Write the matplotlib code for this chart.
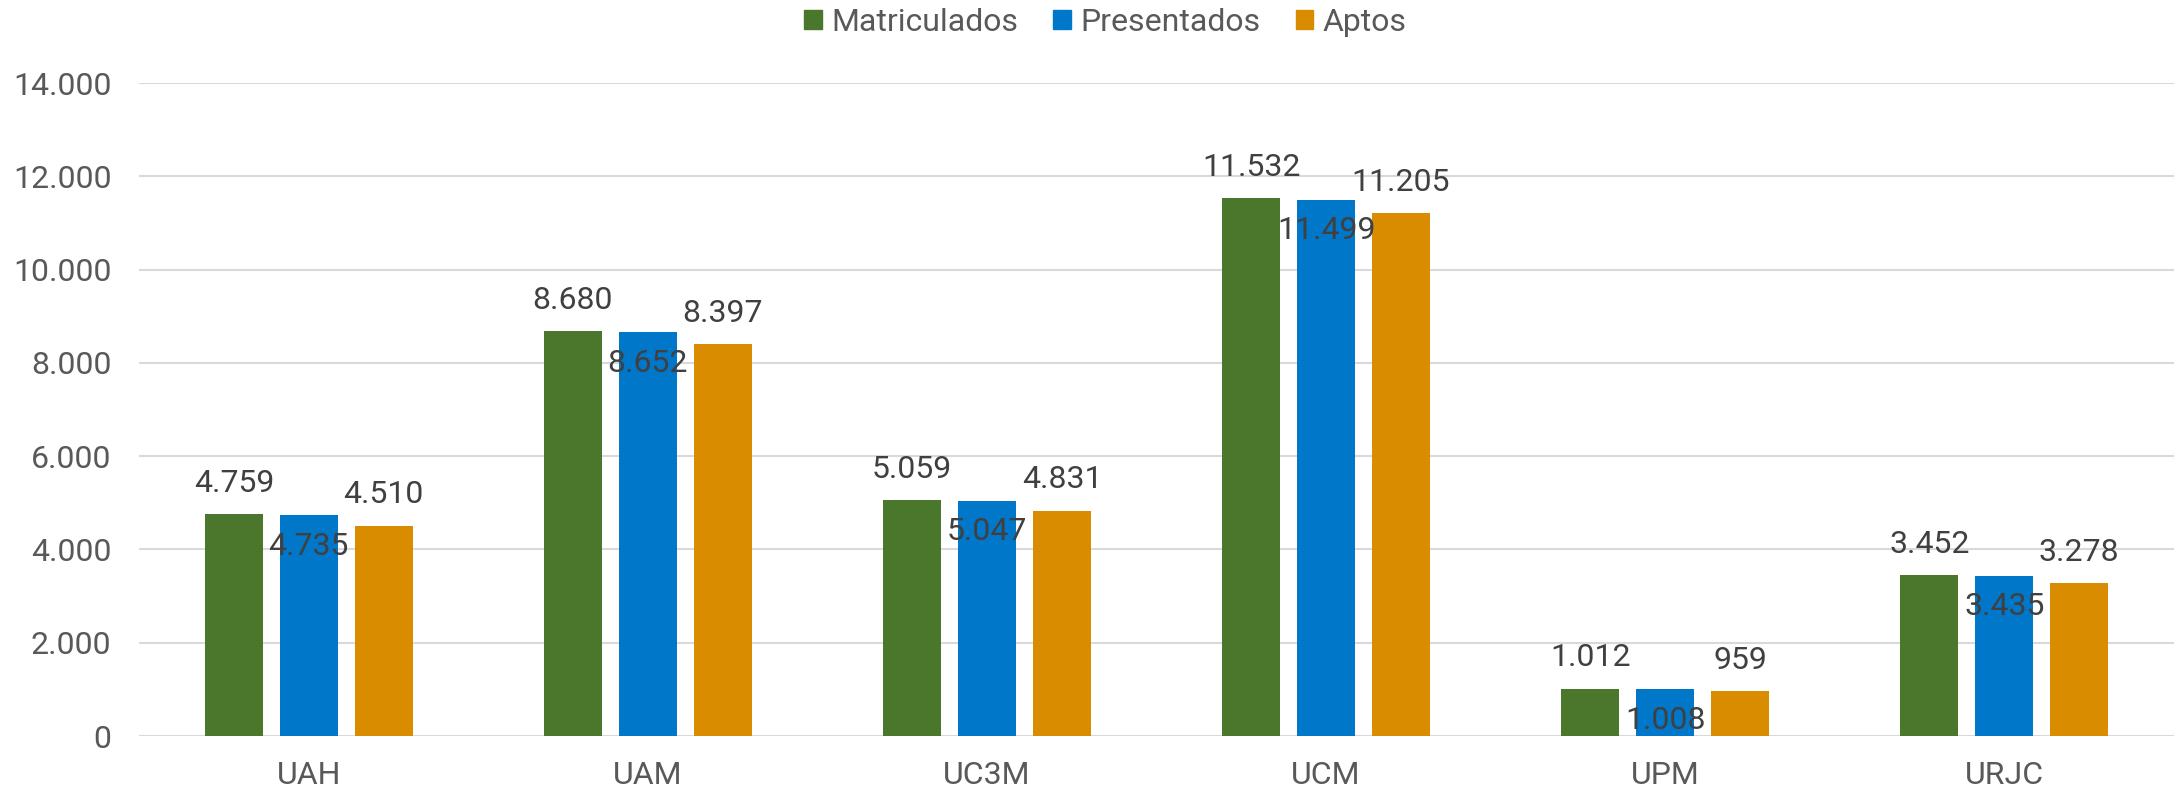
import numpy as np
import matplotlib.pyplot as plt
from matplotlib.patches import Patch

plt.rcParams['font.family'] = ['Roboto', 'DejaVu Sans']

universidades = ['UAH', 'UAM', 'UC3M', 'UCM', 'UPM', 'URJC']
matriculados = [4759, 8680, 5059, 11532, 1012, 3452]
presentados = [4735, 8652, 5047, 11499, 1008, 3435]
aptos = [4510, 8397, 4831, 11205, 959, 3278]

series = ['Matriculados', 'Presentados', 'Aptos']
colores = ['#4a772b', '#0077c8', '#d98c00']


def fmt(v):
    return '{:,}'.format(v).replace(',', '.')


fig = plt.figure(figsize=(21.76, 7.91), dpi=100)
ax = fig.add_axes([0.064, 0.0695, 0.935, 0.8255])

x = np.arange(len(universidades))
ancho = 0.172
paso = 0.221
datos = [matriculados, presentados, aptos]
for k, (vals, col) in enumerate(zip(datos, colores)):
    pos = x + (k - 1) * paso
    ax.bar(pos, vals, width=ancho, color=col, zorder=3)
    # Excel pushes the middle series' labels below the bar top
    off = -31 if k == 1 else 31
    for px, v in zip(pos, vals):
        ax.annotate(fmt(v), (px, v), xytext=(0, off * 0.72),
                    textcoords='offset points', ha='center', va='center',
                    fontsize=23, color='#404040', zorder=4)

ax.set_xlim(-0.5, len(universidades) - 0.5)
ax.set_ylim(0, 14000)
ax.set_yticks(range(0, 14001, 2000))
ax.set_yticklabels([fmt(v) for v in range(0, 14001, 2000)])
ax.set_xticks(x)
ax.set_xticklabels(universidades)
ax.tick_params(axis='both', length=0, labelsize=23, labelcolor='#595959')
ax.tick_params(axis='y', pad=20)
ax.tick_params(axis='x', pad=18)
ax.grid(axis='y', color='#d9d9d9', linewidth=1.5, zorder=0)
for s in ax.spines.values():
    s.set_visible(False)

handles = [Patch(color=c, label=s) for s, c in zip(series, colores)]
fig.legend(handles=handles, loc='center', bbox_to_anchor=(0.508, 0.972), ncol=3,
           frameon=False, fontsize=23, labelcolor='#595959',
           handlelength=0.55, handleheight=0.55, handletextpad=0.3,
           columnspacing=1.1)

fig.savefig('out.png', dpi=100)
